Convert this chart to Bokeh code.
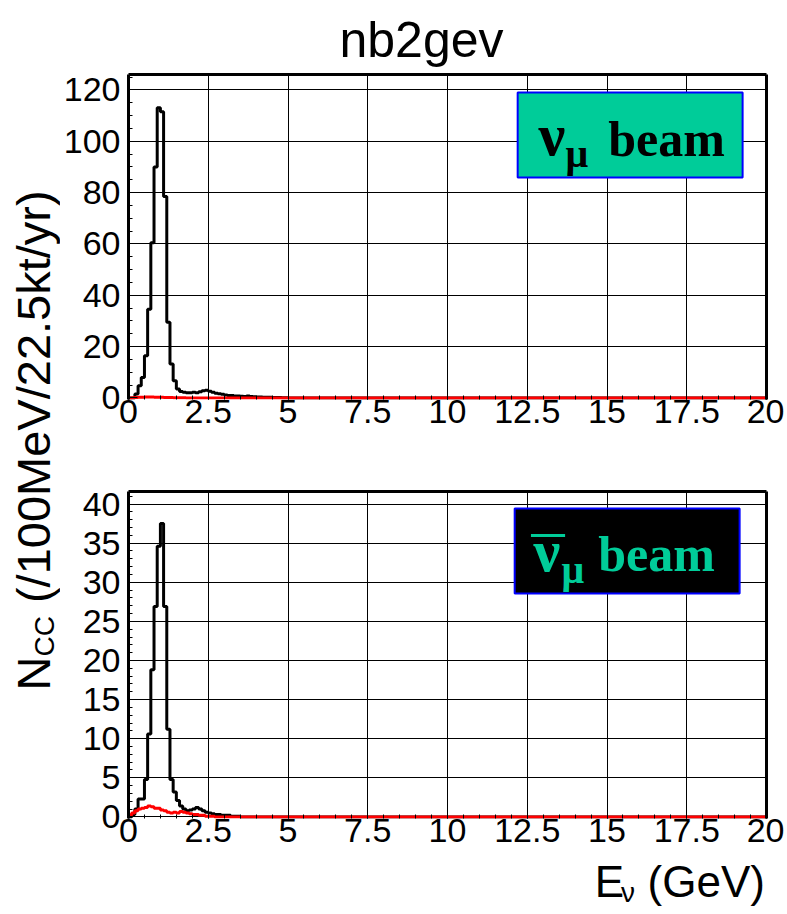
import numpy as np
from bokeh.plotting import figure
from bokeh.models import Range1d, BoxAnnotation, Label, FixedTicker, LinearAxis
from bokeh.layouts import row, column
from bokeh.embed import file_html
from bokeh.resources import INLINE

# ---------------- data (bins of 100 MeV, 0 - 20 GeV) ----------------
bin_width = 0.1
n_bins = 200

# nu_mu beam: N_CC per 100 MeV bin, listed from 0.0 GeV (remaining bins are empty)
numu_beam_black = [0.0, 0.0, 1.5, 4.8, 8.0, 16.4, 34.6, 60.5, 90.0, 113.0,
                   111.5, 78.5, 29.5, 13.2, 6.7, 3.5, 2.5, 2.2, 2.0, 2.0,
                   2.2, 2.0, 2.4, 2.8, 3.0, 2.6, 2.2, 1.8, 1.6, 1.4,
                   1.2, 1.0, 1.0, 0.8, 0.8, 0.7, 0.6, 0.8, 0.6, 0.5,
                   0.4, 0.4, 0.3, 0.3, 0.3, 0.2, 0.2, 0.2, 0.1, 0.1]
numu_beam_red = [0.0, 0.1, 0.2, 0.3, 0.3, 0.4, 0.4, 0.4, 0.3, 0.3,
                 0.3, 0.2, 0.2, 0.2, 0.1, 0.1, 0.1, 0.1]

# anti-nu_mu beam
nubar_beam_black = [0.0, 0.3, 1.0, 2.3, 2.3, 4.8, 10.6, 18.8, 26.9, 34.6,
                    37.5, 26.9, 11.2, 4.8, 3.2, 2.1, 1.4, 1.0, 0.8, 0.9,
                    1.0, 1.2, 1.0, 0.8, 0.6, 0.5, 0.4, 0.3, 0.3, 0.2,
                    0.2, 0.2, 0.1, 0.1, 0.1]
nubar_beam_red = [0.2, 0.5, 0.8, 1.0, 1.1, 1.2, 1.4, 1.3, 1.1, 1.1,
                  0.9, 0.8, 0.6, 0.5, 0.6, 0.5, 0.7, 0.6, 0.5, 0.4,
                  0.3, 0.3, 0.2, 0.2, 0.1, 0.1, 0.1]

x_ticks = [0, 2.5, 5, 7.5, 10, 12.5, 15, 17.5, 20]
x_tick_labels = ["0", "2.5", "5", "7.5", "10", "12.5", "15", "17.5", "20"]
x_minor = [i * 0.5 for i in range(41)]
top_y_ticks = [0, 20, 40, 60, 80, 100, 120]
top_y_minor = [i * 5 for i in range(26)]
bot_y_ticks = [0, 5, 10, 15, 20, 25, 30, 35, 40]
bot_y_minor = [i for i in range(42)]

title_text = "nb2gev"
y_title = ("N", "CC", "(/100MeV/22.5kt/yr)")
x_title = ("E", "ν", "(GeV)")

# ---------------- helpers ----------------
edges = np.round(np.arange(n_bins + 1) * bin_width, 3)


def step_values(vals):
    v = np.zeros(n_bins)
    v[:len(vals)] = vals
    return np.append(v, v[-1])


SANS = "Liberation Sans, Arial, Helvetica, sans-serif"
SERIF = "Liberation Serif, Times New Roman, serif"
TICK_SIZE = "34px"
SHIFT = 0.34   # empirical offset of alphabetic-baseline labels (in em)

# page geometry (px); frames: x 125..766
SIDE_W = 60
LEFT_B = 65
FX0, FX1 = 125.0, 766.0
TOP_Y0, TOP_Y1, TOP_YMIN, TOP_YMAX = 74.0, 399.0, -0.6, 126.0
BOT_Y0, BOT_Y1, BOT_YMIN, BOT_YMAX = 491.0, 818.0, -0.2, 41.6
P1_H, P2_H, XS_H = 449, 42 + 327 + 38, 54
TOTAL_H = P1_H + P2_H + XS_H
PANEL_W = LEFT_B + 641 + 18


def dx(px):
    return (px - FX0) / (FX1 - FX0) * 20.0


def dy_top(py):
    return TOP_YMIN + (TOP_Y1 - py) / (TOP_Y1 - TOP_Y0) * (TOP_YMAX - TOP_YMIN)


def dy_bot(py):
    return BOT_YMIN + (BOT_Y1 - py) / (BOT_Y1 - BOT_Y0) * (BOT_YMAX - BOT_YMIN)


def frame_axis(p, loc):
    ax = LinearAxis(ticker=FixedTicker(ticks=[]), axis_line_width=3, axis_line_color="black",
                    major_tick_line_color=None, minor_tick_line_color=None,
                    major_label_text_font_size="0px", major_label_standoff=0,
                    major_tick_out=0, major_tick_in=0, minor_tick_out=0, minor_tick_in=0)
    p.add_layout(ax, loc)


def make_panel(height, ymin, ymax, yticks, yminor, border_top, border_bottom):
    p = figure(width=PANEL_W, height=height,
               x_range=Range1d(0, 20), y_range=Range1d(ymin, ymax),
               min_border_left=LEFT_B, min_border_right=18,
               min_border_top=border_top, min_border_bottom=border_bottom,
               toolbar_location=None, output_backend="svg")
    p.background_fill_color = "white"
    p.border_fill_color = "white"
    p.outline_line_color = None
    p.grid.grid_line_color = "black"
    p.grid.grid_line_width = 1
    p.grid.grid_line_alpha = 1.0
    p.xaxis.ticker = FixedTicker(ticks=x_ticks, minor_ticks=x_minor)
    p.xaxis.major_label_overrides = dict(zip(x_ticks, x_tick_labels))
    p.yaxis.ticker = FixedTicker(ticks=yticks, minor_ticks=yminor)
    for ax in (p.xaxis[0], p.yaxis[0]):
        ax.axis_line_width = 3
        ax.axis_line_color = "black"
        ax.major_tick_in = 9
        ax.major_tick_out = 0
        ax.minor_tick_in = 4
        ax.minor_tick_out = 0
        ax.major_tick_line_width = 1
        ax.minor_tick_line_width = 1
        ax.major_label_text_font = SANS
        ax.major_label_text_font_size = TICK_SIZE
        ax.major_label_text_color = "black"
    p.xaxis.axis_line_color = None
    p.xaxis.major_label_standoff = 0
    p.yaxis.major_label_standoff = 8
    frame_axis(p, "above")
    frame_axis(p, "right")
    return p


def lbl(p, fy, x_px, base_px, text, size, color, style="bold", font=SERIF):
    p.add_layout(Label(x=dx(x_px), y=fy(base_px - SHIFT * size), text=text, text_font=font,
                       text_font_style=style, text_font_size=f"{size}px", text_color=color,
                       text_baseline="alphabetic", text_align="left"))


# ---------------- top panel ----------------
p1 = make_panel(P1_H, TOP_YMIN, TOP_YMAX, top_y_ticks, top_y_minor, 74, 50)
p1.title.text = title_text
p1.title.text_font = SANS
p1.title.text_font_size = "50px"
p1.title.text_font_style = "normal"
p1.title.text_color = "black"
p1.title.align = "left"
p1.title.offset = 211
p1.title.standoff = 14

p1.step(edges, step_values(numu_beam_black), mode="after", line_color="black", line_width=3)
p1.step(edges, step_values(numu_beam_red), mode="after", line_color="red", line_width=3)

p1.add_layout(BoxAnnotation(left=dx(516), right=dx(742), top=dy_top(92), bottom=dy_top(177),
                            fill_color="#00cc99", fill_alpha=1.0,
                            line_color="blue", line_width=2, line_alpha=1.0))
lbl(p1, dy_top, 537, 155, "ν", 60, "black")
lbl(p1, dy_top, 564, 167, "μ", 40, "black")
lbl(p1, dy_top, 607, 155, "beam", 50, "black")

# ---------------- bottom panel ----------------
p2 = make_panel(P2_H, BOT_YMIN, BOT_YMAX, bot_y_ticks, bot_y_minor, 42, 38)
p2.step(edges, step_values(nubar_beam_black), mode="after", line_color="black", line_width=3)
p2.step(edges, step_values(nubar_beam_red), mode="after", line_color="red", line_width=3)

GREEN = "#00cc99"
p2.add_layout(BoxAnnotation(left=dx(513), right=dx(739), top=dy_bot(508), bottom=dy_bot(593),
                            fill_color="black", fill_alpha=1.0,
                            line_color="blue", line_width=2, line_alpha=1.0))
lbl(p2, dy_bot, 532, 571, "ν", 60, GREEN)
p2.add_layout(Label(x=dx(530), y=dy_bot(561), text="¯", text_font=SERIF, text_font_style="normal",
                    text_font_size="66px", text_color=GREEN, text_baseline="alphabetic"))
lbl(p2, dy_bot, 560, 583, "μ", 40, GREEN)
lbl(p2, dy_bot, 597, 570, "beam", 50, GREEN)

# ---------------- strip below with the x-axis title ----------------
xs = figure(width=PANEL_W, height=XS_H, x_range=Range1d(0, PANEL_W), y_range=Range1d(0, XS_H),
            x_axis_location=None, y_axis_location=None, min_border=0,
            toolbar_location=None, output_backend="svg")
xs.outline_line_color = None
xs.grid.visible = False

XL, XSUB = 44, 28


def xs_label(x_page, base_page, text, size):
    xs.add_layout(Label(x=x_page - SIDE_W, y=TOTAL_H - (base_page - SHIFT * size), text=text,
                        text_font=SANS, text_font_size=f"{size}px", text_color="black",
                        text_align="left", text_baseline="alphabetic"))


xs_label(649, 896, x_title[2], XL)
xs_label(619, 902, x_title[1], XSUB)
xs_label(589, 896, x_title[0], XL)

# ---------------- side strip with the y-axis title ----------------
side = figure(width=SIDE_W, height=TOTAL_H, x_range=Range1d(0, SIDE_W), y_range=Range1d(0, TOTAL_H),
              x_axis_location=None, y_axis_location=None, min_border=0,
              toolbar_location=None, output_backend="svg")
side.outline_line_color = None
side.grid.visible = False

YL, YS = 47, 28
ang = np.pi / 2


def side_label(base_x, start_y, text, size):
    side.add_layout(Label(x=base_x - SHIFT * size, y=TOTAL_H - start_y, text=text, angle=ang,
                          text_font=SANS, text_font_size=f"{size}px", text_color="black",
                          text_baseline="alphabetic"))


y0 = 690.0
side_label(49, y0, y_title[0], YL)
y1 = y0 - 0.722 * YL
side_label(54, y1, y_title[1], YS)
y2 = y1 - 1.444 * YS - 0.278 * YL
side_label(49, y2, y_title[2], YL)

layout = row(side, column(p1, p2, xs))
open("out.html", "w").write(file_html(layout, INLINE))
